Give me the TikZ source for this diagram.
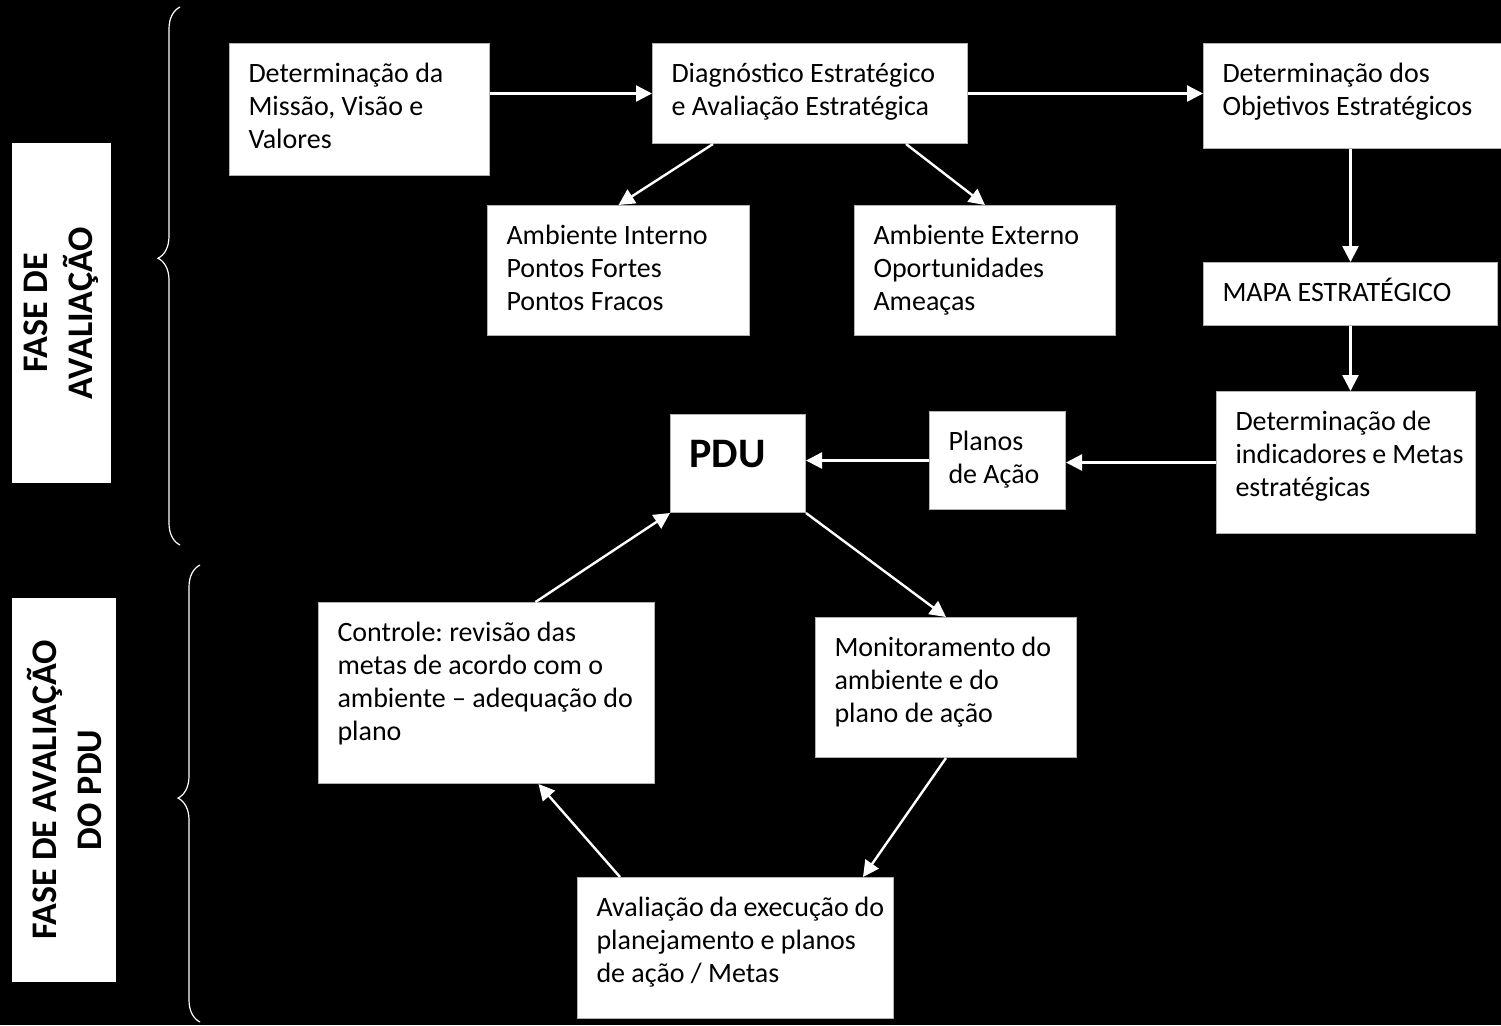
\documentclass[tikz,border=0pt]{standalone}
\usepackage{fontspec}
\setmainfont{Carlito}
\usetikzlibrary{arrows.meta,decorations.pathreplacing}
\frenchspacing

\tikzset{
  caixa/.style 2 args={draw=gray!60, line width=0.5pt, fill=white, anchor=north west,
    align=flush left, inner xsep=9.5pt, inner ysep=0pt, text width=#1,
    text height=19.5pt, text depth=#2, font=\fontsize{14}{16.5}\selectfont,
    execute at begin node={\rightskip=0pt plus 1fil minus 20pt\relax}},
  fase/.style 2 args={fill=white, rotate=90, align=center, inner sep=0pt,
    minimum width=#1, minimum height=#2, font=\fontsize{18}{22.5}\selectfont\bfseries},
  seta/.style={draw=white, line width=1.2pt, -{Triangle[length=8pt,width=8pt]}},
  chave/.style={draw=white, line width=0.6pt, decorate,
    decoration={brace, amplitude=11pt, aspect=#1}}
}

\begin{document}
\begin{tikzpicture}[x=0.5pt,y=0.5pt,yscale=-1]
%fundo
\fill[black] (0,0) rectangle (1501,1025);
\useasboundingbox (0,0) rectangle (1501,1025);

% Text Node
\node[fase={170pt}{49.5pt}] (fase1) at (61.5,313) {FASE DE\\AVALIAÇÃO};
% Text Node
\node[fase={192pt}{52pt}] (fase2) at (64,790) {FASE DE AVALIAÇÃO\\DO PDU};

%Braces
\draw[chave=0.533] (180,545) -- (180,7);
\draw[chave=0.49] (200,1022) -- (200,565);

%Shape: Rectangle
\node[caixa={111pt}{46.5pt}] (missao) at (229,43) {Determinação da\\Missão, Visão e\\Valores};
%Shape: Rectangle
\node[caixa={138.5pt}{30.5pt}] (diag) at (652,43) {Diagnóstico Estratégico\\e Avaliação Estratégica};
%Shape: Rectangle
\node[caixa={136pt}{33pt}] (objet) at (1203,43) {Determinação dos\\Objetivos Estratégicos};
%Shape: Rectangle
\node[caixa={112pt}{45.5pt}] (ambint) at (487,205) {Ambiente Interno\\Pontos Fortes\\Pontos Fracos};
%Shape: Rectangle
\node[caixa={111.5pt}{45.5pt}] (ambext) at (854,205) {Ambiente Externo\\Oportunidades\\Ameaças};
%Shape: Rectangle
\node[caixa={128pt}{12pt}] (mapa) at (1203,262) {MAPA ESTRATÉGICO};
%Shape: Rectangle
\node[caixa={110.5pt}{51.5pt}] (metas) at (1216,391) {Determinação de\\indicadores e Metas\\estratégicas};
%Shape: Rectangle
\node[caixa={49pt}{29.5pt}] (planos) at (929,411) {Planos\\de Ação};
%Shape: Rectangle
\node[caixa={48.5pt}{22.5pt}, text height=26.5pt, font=\fontsize{21}{25}\selectfont\bfseries] (pdu) at (670,414) {PDU};
%Shape: Rectangle
\node[caixa={149pt}{71pt}] (ctrl) at (318,602) {Controle: revisão das\\metas de acordo com o\\ambiente – adequação do\\plano};
%Shape: Rectangle
\node[caixa={111.5pt}{50.5pt}] (monit) at (815,617) {Monitoramento do\\ambiente e do\\plano de ação};
%Shape: Rectangle
\node[caixa={139pt}{51pt}] (aval) at (577,877) {Avaliação da execução do\\planejamento e planos\\de ação / Metas};

%Straight Lines
\draw[seta] (missao.east |- diag.west) -- (diag.west);
\draw[seta] (diag.east) -- (objet.west |- diag.east);
\draw[seta] ([xshift=30.5pt]diag.south west) -- (ambint.north);
\draw[seta] ([xshift=-31pt]diag.south east) -- (ambext.north);
\draw[seta] (mapa.north |- objet.south) -- (mapa.north);
\draw[seta] (mapa.south) -- (mapa.south |- metas.north);
\draw[seta] (metas.west) -- (metas.west -| planos.east);
\draw[seta] (planos.west) -- (planos.west -| pdu.east);
%ciclo
\draw[seta] (pdu.south east) -- (monit.north);
\draw[seta] (monit.south) -- ([xshift=-15.5pt]aval.north east);
\draw[seta] ([xshift=21.5pt]aval.north west) -- ([xshift=26pt]ctrl.south);
\draw[seta] ([xshift=24.5pt]ctrl.north) -- (pdu.south west);

\end{tikzpicture}
\end{document}
